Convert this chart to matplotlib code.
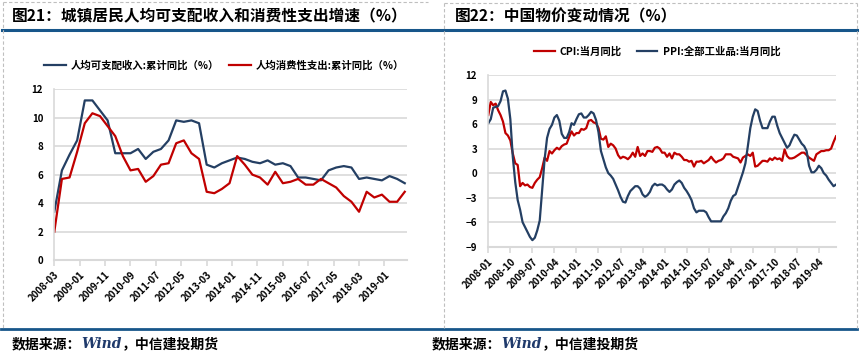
import matplotlib
matplotlib.use("Agg")
import matplotlib.pyplot as plt
from matplotlib.lines import Line2D
import numpy as np

plt.rcParams['font.family'] = ['Noto Sans CJK SC', 'DejaVu Sans']

# ---------------- data: left panel (quarterly, 2008-03 .. 2019-09) ----------------
income_yoy = [3.4, 6.3, 7.4, 8.4,
              11.2, 11.2, 10.5, 9.8,
              7.5, 7.5, 7.5, 7.8,
              7.1, 7.6, 7.8, 8.4,
              9.8, 9.7, 9.8, 9.6,
              6.7, 6.5, 6.8, 7.0,
              7.2, 7.1, 6.9, 6.8,
              7.0, 6.7, 6.8, 6.6,
              5.8, 5.8, 5.7, 5.6,
              6.3, 6.5, 6.6, 6.5,
              5.7, 5.8, 5.7, 5.6,
              5.9, 5.7, 5.4]
consume_yoy = [2.0, 5.7, 5.8, 7.6,
               9.6, 10.3, 10.1, 9.4,
               8.7, 7.3, 6.3, 6.4,
               5.5, 5.9, 6.7, 6.8,
               8.2, 8.4, 7.5, 7.1,
               4.8, 4.7, 5.0, 5.4,
               7.3, 6.7, 6.0, 5.8,
               5.3, 6.2, 5.4, 5.5,
               5.7, 5.3, 5.3, 5.7,
               5.4, 5.1, 4.5, 4.1,
               3.4, 4.8, 4.4, 4.6,
               4.1, 4.1, 4.8]
left_ticklabels = ['2008-03', '2009-01', '2009-11', '2010-09', '2011-07', '2012-05',
                   '2013-03', '2014-01', '2014-11', '2015-09', '2016-07', '2017-05',
                   '2018-03', '2019-01']
left_legend = ['人均可支配收入:累计同比（%）', '人均消费性支出:累计同比（%）']

# ---------------- data: right panel (monthly, 2008-01 .. 2019-11) ----------------
cpi = [7.1, 8.7, 8.3, 8.5, 7.7, 7.1, 6.3, 4.9, 4.6, 4.0, 2.4, 1.2,
       1.0, -1.6, -1.2, -1.5, -1.4, -1.7, -1.8, -1.2, -0.8, -0.5, 0.6, 1.9,
       1.5, 2.7, 2.4, 2.8, 3.1, 2.9, 3.3, 3.5, 3.6, 4.4, 5.1, 4.6,
       4.9, 4.9, 5.4, 5.3, 5.5, 6.4, 6.5, 6.2, 6.1, 5.5, 4.2, 4.1,
       4.5, 3.2, 3.6, 3.4, 3.0, 2.2, 1.8, 2.0, 1.9, 1.7, 2.0, 2.5,
       2.0, 3.2, 2.1, 2.4, 2.1, 2.7, 2.7, 2.6, 3.1, 3.2, 3.0, 2.5,
       2.5, 2.0, 2.4, 1.8, 2.5, 2.3, 2.3, 2.0, 1.6, 1.6, 1.4, 1.5,
       0.8, 1.4, 1.4, 1.5, 1.2, 1.4, 1.6, 2.0, 1.6, 1.3, 1.5, 1.6,
       1.8, 2.3, 2.3, 2.3, 2.0, 1.9, 1.8, 1.3, 1.9, 2.1, 2.3, 2.1,
       2.5, 0.8, 0.9, 1.2, 1.5, 1.5, 1.4, 1.8, 1.6, 1.9, 1.7, 1.8,
       1.5, 2.9, 2.1, 1.8, 1.8, 1.9, 2.1, 2.3, 2.5, 2.5, 2.2, 1.9,
       1.7, 1.5, 2.3, 2.5, 2.7, 2.7, 2.8, 2.8, 3.0, 3.8, 4.5]
ppi = [6.1, 6.6, 8.0, 8.1, 8.2, 8.8, 10.0, 10.1, 9.1, 6.6, 2.0, -1.1,
       -3.3, -4.5, -6.0, -6.6, -7.2, -7.8, -8.2, -7.9, -7.0, -5.8, -2.1, 1.7,
       4.3, 5.4, 5.9, 6.8, 7.1, 6.4, 4.8, 4.3, 4.3, 5.0, 6.1, 5.9,
       6.6, 7.2, 7.3, 6.8, 6.8, 7.1, 7.5, 7.3, 6.5, 5.0, 2.7, 1.7,
       0.7, 0.0, -0.3, -0.7, -1.4, -2.1, -2.9, -3.5, -3.6, -2.8, -2.2, -1.9,
       -1.6, -1.6, -1.9, -2.6, -2.9, -2.7, -2.3, -1.6, -1.3, -1.5, -1.4, -1.4,
       -1.6, -2.0, -2.3, -2.0, -1.4, -1.1, -0.9, -1.2, -1.8, -2.2, -2.7, -3.3,
       -4.3, -4.8, -4.6, -4.6, -4.6, -4.8, -5.4, -5.9, -5.9, -5.9, -5.9, -5.9,
       -5.3, -4.9, -4.3, -3.4, -2.8, -2.6, -1.7, -0.8, 0.1, 1.2, 3.3, 5.5,
       6.9, 7.8, 7.6, 6.4, 5.5, 5.5, 5.5, 6.3, 6.9, 6.9, 5.8, 4.9,
       4.3, 3.7, 3.1, 3.4, 4.1, 4.7, 4.6, 4.1, 3.6, 3.3, 2.7, 0.9,
       0.1, 0.1, 0.4, 0.9, 0.6, 0.0, -0.3, -0.8, -1.2, -1.6, -1.4]
right_ticklabels = ['2008-01', '2008-10', '2009-07', '2010-04', '2011-01', '2011-10',
                    '2012-07', '2013-04', '2014-01', '2014-10', '2015-07', '2016-04',
                    '2017-01', '2017-10', '2018-07', '2019-04']
right_legend = ['CPI:当月同比', 'PPI:全部工业品:当月同比']

titles = ['图21：城镇居民人均可支配收入和消费性支出增速（%）', '图22：中国物价变动情况（%）']

NAVY = '#243F63'
RED = '#C00000'
GRID = '#D9D9D9'
RULE = '#17568A'

W, H = 860, 355
fig = plt.figure(figsize=(W / 100, H / 100), dpi=100)


def fx(px):
    return px / W


def fy(py):
    return 1 - py / H


def style_axes(ax):
    for s in ['top', 'right']:
        ax.spines[s].set_visible(False)
    ax.spines['left'].set_color(GRID)
    ax.spines['bottom'].set_color(GRID)
    ax.spines['left'].set_linewidth(1.2)
    ax.spines['bottom'].set_linewidth(1.5)
    ax.yaxis.grid(True, color=GRID, linewidth=1.2)
    ax.set_axisbelow(True)
    ax.tick_params(axis='y', length=0, labelsize=7, pad=8)
    ax.tick_params(axis='x', length=4, color=GRID, width=1.2, labelsize=7, pad=3)
    for lab in ax.get_yticklabels() + ax.get_xticklabels():
        lab.set_fontweight('bold')


# ---------------- left axes ----------------
axL = fig.add_axes([fx(54.3), fy(260.3), fx(407.3 - 54.3), (260.3 - 89) / H])
xL = np.arange(len(income_yoy)) * 3  # months since 2008-03
axL.plot(xL, income_yoy, color=NAVY, lw=1.6, label=left_legend[0])
axL.plot(xL, consume_yoy, color=RED, lw=1.6, label=left_legend[1])
axL.set_xlim(0, 139)
axL.set_ylim(0, 12)
axL.set_yticks(np.arange(0, 13, 2))
axL.set_xticks(np.arange(len(left_ticklabels)) * 10)
axL.set_xticklabels(left_ticklabels, rotation=45, ha='right', rotation_mode='anchor')
style_axes(axL)
legL = axL.legend(loc='center', bbox_to_anchor=(fx(224), fy(65)), bbox_transform=fig.transFigure,
                  ncol=2, frameon=False, fontsize=7.5, handlelength=2.1, columnspacing=1.0,
                  handletextpad=0.4)
for t in legL.get_texts():
    t.set_fontweight('bold')

# ---------------- right axes ----------------
axR = fig.add_axes([fx(488.3), fy(246.7), fx(836 - 488.3), (246.7 - 75) / H])
xR = np.arange(len(cpi))
axR.plot(xR, cpi, color=RED, lw=1.6, label=right_legend[0])
axR.plot(xR, ppi, color=NAVY, lw=1.6, label=right_legend[1])
axR.set_xlim(0, len(cpi) - 1)
axR.set_ylim(-9, 12)
axR.set_yticks(np.arange(-9, 13, 3))
axR.set_xticks(np.arange(len(right_ticklabels)) * 9)
axR.set_xticklabels(right_ticklabels, rotation=45, ha='right', rotation_mode='anchor')
style_axes(axR)
legR = axR.legend(loc='center', bbox_to_anchor=(fx(657), fy(51)), bbox_transform=fig.transFigure,
                  ncol=2, frameon=False, fontsize=7.5, handlelength=2.0, columnspacing=1.4,
                  handletextpad=0.5)
for t in legR.get_texts():
    t.set_fontweight('bold')

# ---------------- frame decorations ----------------
fig.add_artist(Line2D([fx(2), fx(857)], [fy(30), fy(30)], color=RULE, lw=2.2))
fig.add_artist(Line2D([fx(1), fx(857)], [fy(329), fy(329)], color=RULE, lw=2.0))
dash = dict(color='#BFBFBF', lw=0.8, ls=(0, (3, 2)))
fig.add_artist(Line2D([fx(3), fx(3)], [fy(2), fy(328)], **dash))
fig.add_artist(Line2D([fx(3), fx(428)], [fy(2), fy(2)], **dash))
fig.add_artist(Line2D([fx(444), fx(444)], [fy(3), fy(328)], **dash))
fig.add_artist(Line2D([fx(857), fx(857)], [fy(3), fy(328)], **dash))
fig.add_artist(Line2D([fx(444), fx(857)], [fy(3), fy(3)], **dash))

fig.text(fx(12), fy(16), titles[0], fontsize=11.3, fontweight='bold', va='center', ha='left')
fig.text(fx(455), fy(16), titles[1], fontsize=11.3, fontweight='bold', va='center', ha='left')

# source notes
for x0 in (12, 432):
    t1 = fig.text(fx(x0), fy(344), '数据来源：', fontsize=10, fontweight='bold',
                  va='center', ha='left', style='italic')
    a2 = fig.text(0, 0, '')
    a2.remove()
    a2 = axL.annotate('Wind', xy=(1, 0.5), xycoords=t1, va='center', ha='left',
                      fontsize=10, fontweight='bold', style='italic',
                      family=['DejaVu Serif'], color='#1F3A6B', annotation_clip=False)
    axL.annotate('，中信建投期货', xy=(1, 0.5), xycoords=a2, va='center', ha='left',
                 fontsize=10, fontweight='bold', style='italic', annotation_clip=False)

fig.savefig('out.png', dpi=100)
